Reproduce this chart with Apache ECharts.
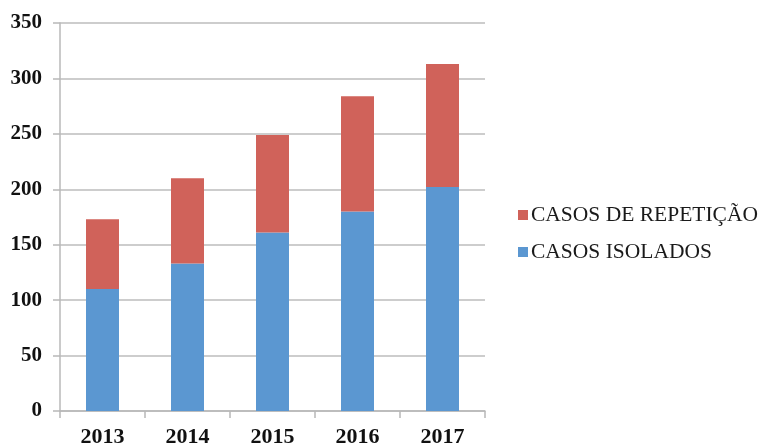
<!DOCTYPE html>
<html>
<head>
<meta charset="utf-8">
<script src="https://cdn.jsdelivr.net/npm/echarts@6/dist/echarts.min.js"></script>
<style>
  html, body { margin: 0; padding: 0; background: #fff; }
  #chart { width: 768px; height: 448px; }
</style>
</head>
<body>
<div id="chart"></div>
<script>
  var anos = ['2013', '2014', '2015', '2016', '2017'];
  var casosIsolados = [110, 133, 161, 180, 202];
  var casosRepeticao = [63, 77, 88, 104, 111];

  var myChart = echarts.init(document.getElementById('chart'));
  var fonte = '"Liberation Serif", "DejaVu Serif", serif';
  var option = {
    backgroundColor: '#fff',
    animation: false,
    grid: { left: 60, right: 283, top: 23, bottom: 36 },
    legend: {
      orient: 'vertical',
      left: 513,
      top: 199,
      itemWidth: 10,
      itemHeight: 10,
      itemGap: 15,
      icon: 'rect',
      data: ['CASOS DE REPETIÇÃO', 'CASOS ISOLADOS'],
      textStyle: { fontFamily: fonte, fontSize: 21.5, color: '#1a1a1a', padding: [0, 0, 0, -2] }
    },
    xAxis: {
      type: 'category',
      data: anos,
      axisLine: { lineStyle: { color: '#b8b8b8', width: 1.5 } },
      axisTick: { show: true, length: 7, lineStyle: { color: '#b8b8b8', width: 1.5 } },
      axisLabel: { fontFamily: fonte, fontSize: 22, fontWeight: 'bold', color: '#111', margin: 15 }
    },
    yAxis: {
      type: 'value',
      min: 0,
      max: 350,
      interval: 50,
      axisLine: { show: true, lineStyle: { color: '#b8b8b8', width: 1.5 } },
      axisTick: { show: true, length: 7, lineStyle: { color: '#b8b8b8', width: 1.5 } },
      splitLine: { lineStyle: { color: '#bdbdbd', width: 1.5 } },
      axisLabel: { fontFamily: fonte, fontSize: 21, fontWeight: 'bold', color: '#111', margin: 18 }
    },
    series: [
      {
        name: 'CASOS ISOLADOS',
        type: 'bar',
        stack: 'total',
        barWidth: 33,
        itemStyle: { color: '#5B97D1' },
        data: casosIsolados
      },
      {
        name: 'CASOS DE REPETIÇÃO',
        type: 'bar',
        stack: 'total',
        barWidth: 33,
        itemStyle: { color: '#D0625A' },
        data: casosRepeticao
      }
    ]
  };
  myChart.setOption(option);
</script>
</body>
</html>
